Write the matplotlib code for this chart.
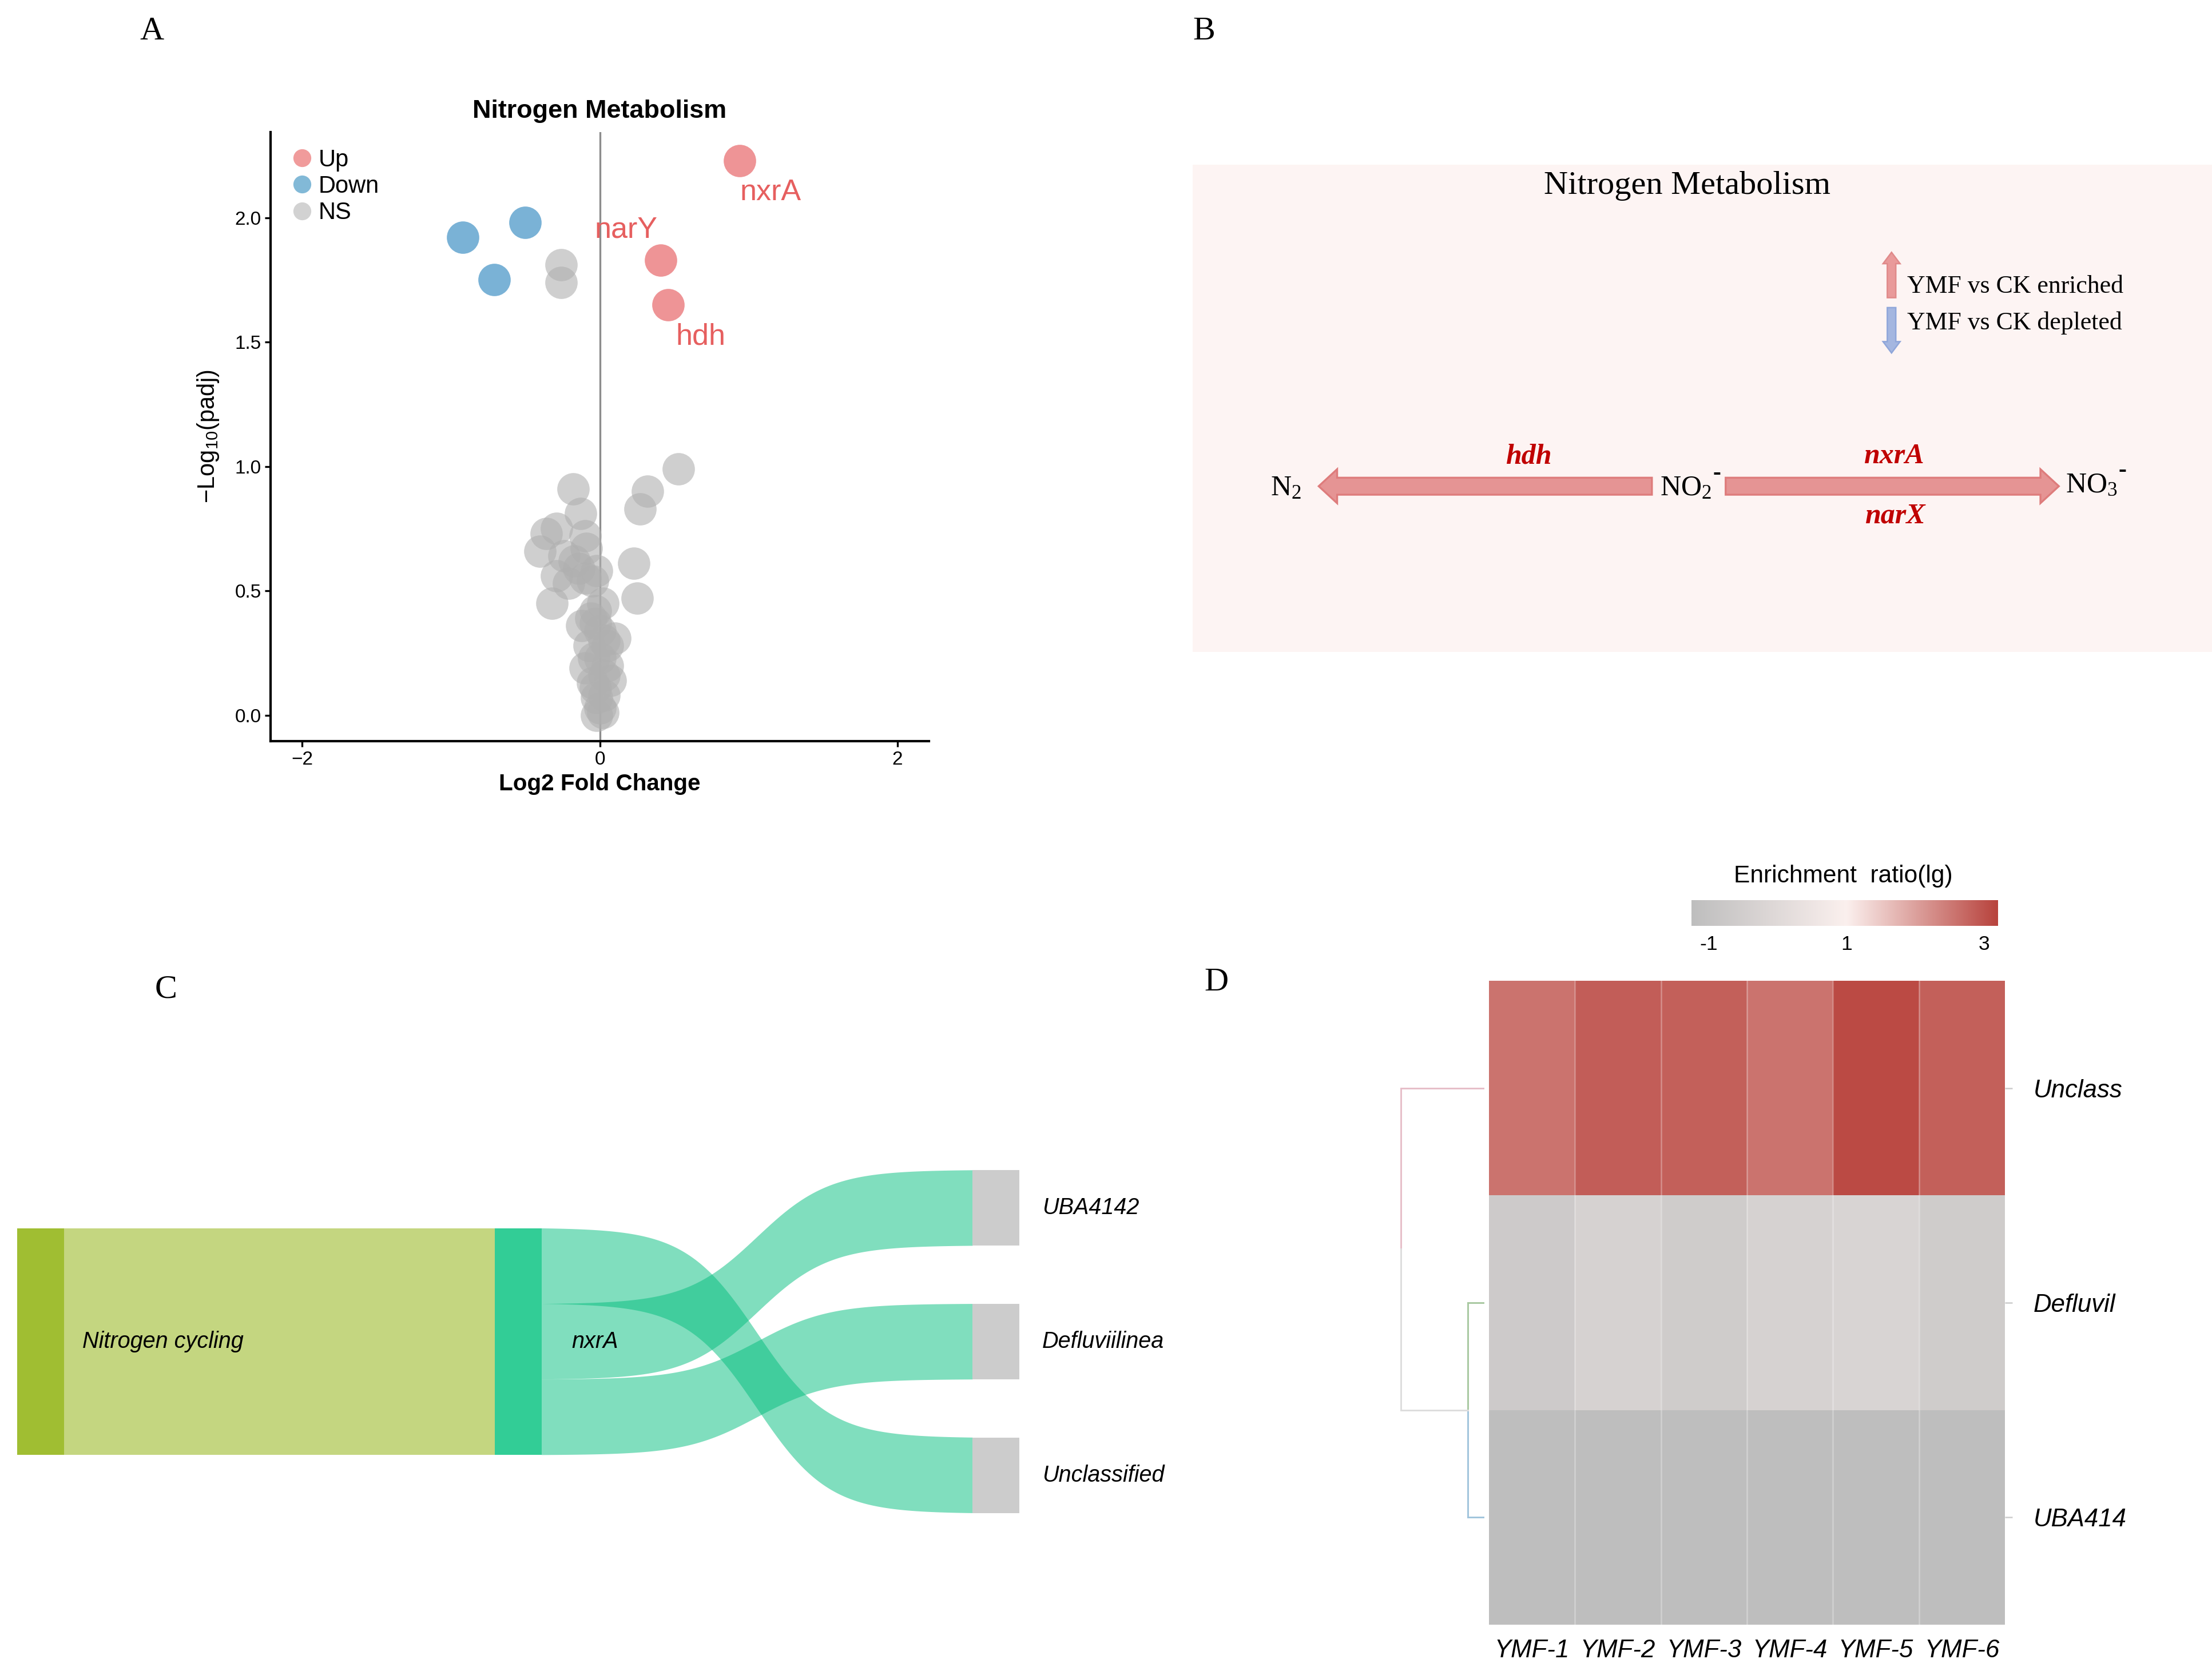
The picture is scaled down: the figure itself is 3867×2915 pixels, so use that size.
import numpy as np
import matplotlib
matplotlib.use('Agg')
import matplotlib.pyplot as plt
from matplotlib.colors import LinearSegmentedColormap, Normalize
from matplotlib.patches import FancyArrow
from matplotlib.lines import Line2D

plt.rcParams['font.family'] = ['Liberation Sans', 'DejaVu Sans']
plt.rcParams['mathtext.fontset'] = 'custom'
plt.rcParams['mathtext.rm'] = 'Liberation Serif'
plt.rcParams['mathtext.sf'] = 'Liberation Sans'
plt.rcParams['mathtext.it'] = 'Liberation Serif:italic'

# ---- A: volcano plot data ----
up_genes = ['nxrA', 'narY', 'hdh']
up_lfc = [0.94, 0.41, 0.46]
up_p = [2.23, 1.83, 1.65]
down_lfc = [-0.92, -0.50, -0.71]
down_p = [1.92, 1.98, 1.75]
ns_lfc = [-0.26, -0.26, 0.53, 0.32, 0.27, 0.23, 0.25, -0.18, -0.13, -0.29,
          -0.36, -0.40, -0.10, -0.09, -0.24, -0.29, -0.21, -0.10, -0.05, -0.02,
          -0.32, -0.03, -0.12, -0.03, 0.10, 0.05, -0.10, 0.00, 0.03, -0.03,
          0.03, 0.00, -0.02, 0.02, -0.05, 0.05, -0.07, 0.00, -0.06, 0.02,
          -0.14, -0.17, 0.07, -0.02, -0.04, 0.03]
ns_p = [1.81, 1.74, 0.99, 0.90, 0.83, 0.61, 0.47, 0.91, 0.81, 0.75,
        0.73, 0.66, 0.72, 0.67, 0.64, 0.56, 0.53, 0.55, 0.54, 0.58,
        0.45, 0.42, 0.36, 0.37, 0.31, 0.28, 0.19, 0.23, 0.16, 0.11,
        0.08, 0.03, 0.00, 0.01, 0.13, 0.20, 0.28, 0.34, 0.39, 0.45,
        0.59, 0.62, 0.14, 0.07, 0.23, 0.30]

# ---- C: sankey data ----
pathway = 'Nitrogen cycling'
gene = 'nxrA'
genera = ['UBA4142', 'Defluviilinea', 'Unclassified']
genus_values = [1, 1, 1]
stack_order = ['Unclassified', 'UBA4142', 'Defluviilinea']  # order of links leaving nxrA

# ---- D: heatmap data ----
samples = ['YMF-1', 'YMF-2', 'YMF-3', 'YMF-4', 'YMF-5', 'YMF-6']
taxa = ['Unclass', 'Defluvil', 'UBA414']
unclass_ratio = [2.58, 2.86, 2.83, 2.58, 3.10, 2.83]
defluvil_ratio = [-0.71, -0.35, -0.62, -0.35, -0.26, -0.62]
uba414_ratio = [-1.25, -1.25, -1.25, -1.25, -1.25, -1.25]
merge_heights = [0.19, 1.0]   # Defluvil+UBA414, then with Unclass
cbar_ticks = [-1, 1, 3]

W, H = 1560, 1176  # page layout grid


def box(x0, y0, x1, y1):
    return [x0 / W, 1 - y1 / H, (x1 - x0) / W, (y1 - y0) / H]


fig = plt.figure(figsize=(3867 / 300, 2915 / 300), dpi=300)
fig.patch.set_facecolor('white')

# panel letters
for lab, (px, py) in zip('ABCD', [(107, 22), (849, 22), (117, 698), (858, 693)]):
    fig.text(px / W, 1 - py / H, lab, family='Liberation Serif', fontsize=14,
             ha='center', va='center')

# ================= A =================
axA = fig.add_axes(box(191, 93, 655, 523))
axA.axvline(0, color='#8c8c8c', lw=0.8, zorder=1)
axA.scatter(ns_lfc, ns_p, s=185, color='#b0b0b0', alpha=0.6, lw=0, zorder=2)
axA.scatter(down_lfc, down_p, s=185, color='#7ab2d6', lw=0, zorder=3)
axA.scatter(up_lfc, up_p, s=185, color='#ee9496', lw=0, zorder=3)
offsets = {'nxrA': (13, -13.5), 'narY': (-14.5, 12.5), 'hdh': (13.5, -13.5)}
for g, x, y in zip(up_genes, up_lfc, up_p):
    axA.annotate(g, (x, y), xytext=offsets[g], textcoords='offset points',
                 ha='center', va='center', color='#e65f5f', fontsize=12.5)
axA.set_xlim(-2.21, 2.21)
axA.set_ylim(-0.105, 2.345)
axA.set_xticks([-2, 0, 2])
axA.set_yticks([0, 0.5, 1.0, 1.5, 2.0])
axA.set_yticklabels(['0.0', '0.5', '1.0', '1.5', '2.0'])
axA.tick_params(labelsize=8, length=2.5, width=0.8, pad=1.5)
for s in ['top', 'right']:
    axA.spines[s].set_visible(False)
for s in ['left', 'bottom']:
    axA.spines[s].set_linewidth(1.0)
axA.set_title('Nitrogen Metabolism', fontsize=10.8, fontweight='bold', pad=6)
axA.set_xlabel('Log2 Fold Change', fontsize=9.7, fontweight='bold', labelpad=2)
axA.set_ylabel(r'$\mathsf{-Log_{10}(padj)}$', fontsize=10, labelpad=6)
handles = [Line2D([], [], marker='o', ls='', color=c, markersize=7.5, mec='none')
           for c in ['#f09b9b', '#82b9d7', '#d2d2d2']]
axA.legend(handles, ['Up', 'Down', 'NS'], loc='upper left', bbox_to_anchor=(0.0, 1.0),
           frameon=False, fontsize=10, handletextpad=0.1, labelspacing=0.15,
           borderaxespad=0.3, handlelength=1.2)

# ================= B =================
axB = fig.add_axes(box(841, 116, 1560, 460))
axB.set_xlim(841, 1560)
axB.set_ylim(460, 116)
axB.set_facecolor('#fdf4f3')
axB.set_xticks([])
axB.set_yticks([])
for s in axB.spines.values():
    s.set_visible(False)
serif = 'Liberation Serif'
axB.text(1190, 131, 'Nitrogen Metabolism', family=serif, fontsize=14,
         ha='center', va='center', color='#000000')
axB.add_patch(FancyArrow(1334, 210, 0, -32, width=6, head_width=12, head_length=8,
                         length_includes_head=True, fc='#e99a9a', ec='#e08a8a', lw=0.6))
axB.add_patch(FancyArrow(1334, 217, 0, 32, width=6, head_width=12, head_length=8,
                         length_includes_head=True, fc='#a4b6e0', ec='#8fa6da', lw=0.6))
axB.text(1345, 202, 'YMF vs CK enriched', family=serif, fontsize=10.5, va='center')
axB.text(1345, 228, 'YMF vs CK depleted', family=serif, fontsize=10.5, va='center')
axB.add_patch(FancyArrow(1165, 343, 930 - 1165, 0, width=12, head_width=24, head_length=13,
                         length_includes_head=True, fc='#e59494', ec='#de7c7c', lw=0.8))
axB.add_patch(FancyArrow(1217, 343, 1452 - 1217, 0, width=12, head_width=24, head_length=13,
                         length_includes_head=True, fc='#e59494', ec='#de7c7c', lw=0.8))
axB.text(907, 344, r'$\mathrm{N_2}$', fontsize=12, ha='center', va='center')
for lab, (tx, ty) in zip([r'$\mathrm{NO_2}$', r'$\mathrm{NO_3}$'], [(1189, 344), (1475, 342)]):
    axB.text(tx, ty, lab, fontsize=12, ha='center', va='center')
    axB.annotate('-', (tx, ty), xytext=(13, 6), textcoords='offset points',
                 family=serif, fontsize=10, fontweight='bold', ha='center', va='center')
for txt, (tx, ty) in zip(['hdh', 'nxrA', 'narX'], [(1078, 322), (1336, 322), (1337, 364)]):
    axB.text(tx, ty, txt, family=serif, fontsize=12, fontstyle='italic', fontweight='bold',
             color='#c00000', ha='center', va='center')

# ================= C =================
axC = fig.add_axes(box(0, 790, 840, 1100))
axC.set_xlim(0, 840)
axC.set_ylim(1100, 790)
axC.axis('off')

col_x = [12, 349, 686]
node_w = 33
unit = 53.3
gap = 41
cy = 946.5
total = sum(genus_values)
src_top = cy - total * unit / 2
tgt_top = cy - (total * unit + gap * (len(genera) - 1)) / 2
tgt_pos = {}
y = tgt_top
for g, v in zip(genera, genus_values):
    tgt_pos[g] = (y, y + v * unit)
    y += v * unit + gap


def band(ax, x0, x1, a0, b0, a1, b1, color, alpha, k=6.0):
    u = np.linspace(0, 1, 200)
    s = (np.tanh(k * (u - 0.5)) / np.tanh(k / 2) + 1) / 2
    bx = x0 + (x1 - x0) * u
    top = a0 + (a1 - a0) * s
    bot = b0 + (b1 - b0) * s
    ax.fill(np.r_[bx, bx[::-1]], np.r_[top, bot[::-1]], color=color, alpha=alpha, lw=0)


# pathway -> gene
band(axC, col_x[0] + node_w, col_x[1], src_top, src_top + total * unit,
     src_top, src_top + total * unit, '#a0be32', 0.62)
# gene -> genera
y = src_top
vals = dict(zip(genera, genus_values))
for g in stack_order:
    h = vals[g] * unit
    t0, t1 = tgt_pos[g]
    band(axC, col_x[1] + node_w, col_x[2], y, y + h, t0, t1, '#03be7e', 0.5)
    y += h

axC.fill_between([col_x[0], col_x[0] + node_w], src_top, src_top + total * unit,
                 color='#a0be32', lw=0)
axC.fill_between([col_x[1], col_x[1] + node_w], src_top, src_top + total * unit,
                 color='#32cd96', lw=0)
for g in genera:
    t0, t1 = tgt_pos[g]
    axC.fill_between([col_x[2], col_x[2] + node_w], t0, t1, color='#cccccc', lw=0)
    axC.text(col_x[2] + node_w + 16, (t0 + t1) / 2, g, fontsize=9.5, fontstyle='italic',
             va='center', ha='left')
axC.text(col_x[0] + node_w + 13, cy, pathway, fontsize=9.5, fontstyle='italic',
         va='center', ha='left')
axC.text(col_x[1] + node_w + 21, cy, gene, fontsize=9.5, fontstyle='italic',
         va='center', ha='left')

# ================= D =================
ratio = np.array([unclass_ratio, defluvil_ratio, uba414_ratio])
vmin, vmax = -1.25, 3.2
cmap = LinearSegmentedColormap.from_list(
    'enr', [(0.0, '#bebebe'), ((1 - vmin) / (vmax - vmin), '#fbf0ee'), (1.0, '#b8433d')])
norm = Normalize(vmin, vmax)

axD = fig.add_axes(box(1050, 692, 1414, 1146))
axD.pcolormesh(np.arange(len(samples) + 1), np.arange(len(taxa) + 1), ratio,
               cmap=cmap, norm=norm)
for k in range(1, len(samples)):
    axD.axvline(k, color='white', alpha=0.3, lw=0.6)
axD.set_xlim(0, len(samples))
axD.set_ylim(len(taxa), 0)
axD.set_xticks(np.arange(len(samples)) + 0.5)
axD.set_xticklabels(samples, fontsize=10.5, fontstyle='italic')
axD.set_yticks(np.arange(len(taxa)) + 0.5)
axD.set_yticklabels(taxa, fontsize=10.5, fontstyle='italic')
axD.yaxis.tick_right()
axD.tick_params(axis='x', length=0, pad=6)
axD.tick_params(axis='y', length=3, color='#cccccc', width=0.6, pad=9)
for s in axD.spines.values():
    s.set_visible(False)

# dendrogram
axT = fig.add_axes(box(985, 692, 1048, 1146))
axT.set_ylim(len(taxa), 0)
axT.set_xlim(1.052, -0.034)
axT.axis('off')
r0, r1, r2 = 0.5, 1.5, 2.5
h1, h2 = merge_heights
mid12 = (r1 + r2) / 2
axT.plot([0, h1], [r1, r1], color='#a8c8a0', lw=0.7)
axT.plot([h1, h1], [r1, mid12], color='#a8c8a0', lw=0.7)
axT.plot([0, h1], [r2, r2], color='#a0c4dc', lw=0.7)
axT.plot([h1, h1], [mid12, r2], color='#a0c4dc', lw=0.7)
axT.plot([0, h2], [r0, r0], color='#e6bec8', lw=0.7)
axT.plot([h2, h2], [r0, 1.25], color='#e6bec8', lw=0.7)
axT.plot([h2, h2], [1.25, mid12], color='#dddddd', lw=0.7)
axT.plot([h1, h2], [mid12, mid12], color='#dddddd', lw=0.7)

# colour bar
axK = fig.add_axes(box(1193, 635, 1409, 653))
grad = np.linspace(vmin, vmax, 256)[None, :]
axK.imshow(grad, aspect='auto', cmap=cmap, norm=norm, extent=[vmin, vmax, 0, 1])
axK.set_yticks([])
axK.set_xticks(cbar_ticks)
axK.set_xticklabels([str(t) for t in cbar_ticks], fontsize=8.5)
axK.tick_params(axis='x', length=0, pad=4)
for s in axK.spines.values():
    s.set_visible(False)
fig.text(1300 / W, 1 - 618 / H, 'Enrichment  ratio(lg)', fontsize=10.2,
         ha='center', va='center')

fig.savefig('out.png', dpi=300)
